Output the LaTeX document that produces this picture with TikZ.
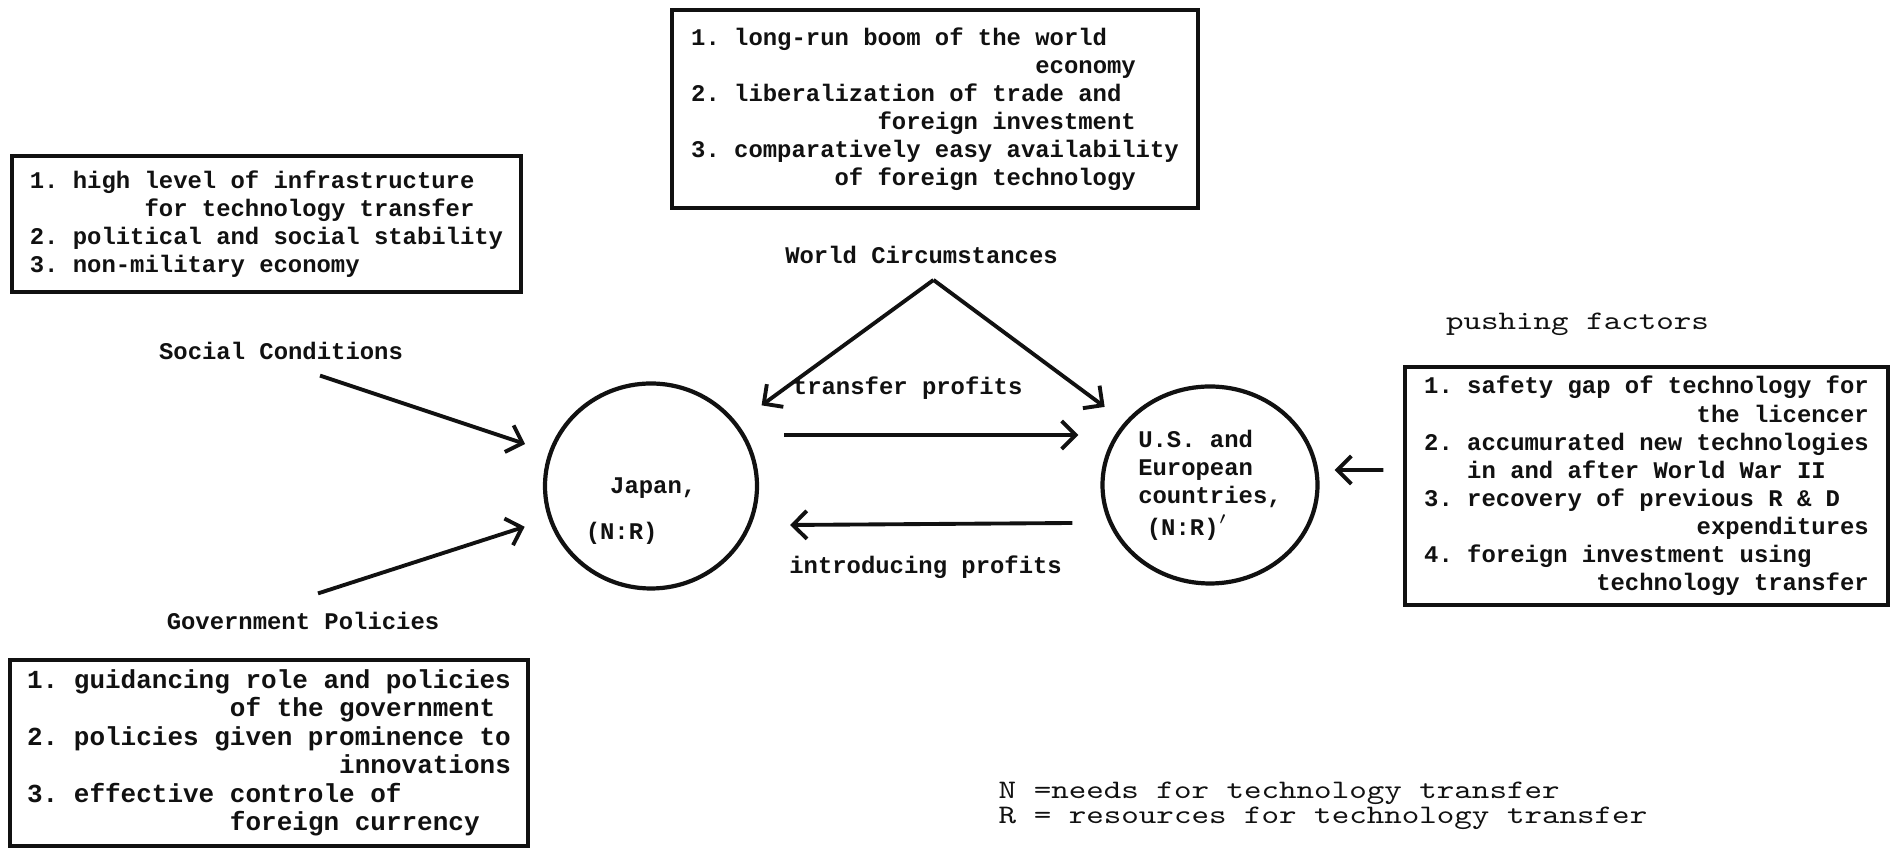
\documentclass[tikz,border=0pt]{standalone}
\usepackage{fontspec}
\newfontfamily\dotfont{Liberation Mono}
\usetikzlibrary{arrows.meta,positioning,shapes.geometric}
\definecolor{scanink}{HTML}{111111}
\newcommand{\skipch}[1]{\hspace*{#1\fontcharwd\font`x}}
\newcommand{\squat}[1]{\scalebox{1}[.8]{#1}}
\tikzset{
  factorbox/.style={draw=scanink,line width=.9pt,align=left,inner sep=0pt,text=scanink,
    font=\dotfont\bfseries\frenchspacing\fontsize{6.8pt}{8pt}\selectfont},
  country/.style={ellipse,draw=scanink,line width=1.2pt,inner sep=0pt,align=left,text=scanink,
    font=\dotfont\bfseries\frenchspacing\fontsize{6.8pt}{8pt}\selectfont},
  heading/.style={inner sep=1pt,text=scanink,
    font=\dotfont\bfseries\frenchspacing\fontsize{6.8pt}{8pt}\selectfont},
  typed/.style={inner sep=0pt,text=scanink,font=\ttfamily\fontsize{9.5pt}{10pt}\selectfont},
  edge/.style={-{Straight Barb[length=1.4mm,width=2.8mm]},line width=1.1pt,scanink}
}

\begin{document}
\begin{tikzpicture}
  \path[use as bounding box] (0,0) rectangle (18.96,8.49);
  % countries
  \node[country,minimum width=2.12cm,minimum height=2.05cm] (japan) at (6.51,3.63) {};
  \node[heading,align=left] (japantxt) at ([xshift=-1mm,yshift=-2.5mm]japan.center)
    {\skipch{1.7}Japan,\\[5pt](N:R)};
  \node[country,minimum width=2.15cm,minimum height=1.97cm] (west) at (12.10,3.64)
    {U.S. and\\European\\countries,\\[1pt]\skipch{.6}(N:R)$'$};
  \draw[edge] ([xshift=2.5mm,yshift=5.1mm]japan.east) --
    node[heading,above=3mm,pos=.42] (transfer) {transfer profits}
    ([xshift=-2.2mm,yshift=5mm]west.west);
  \draw[edge] ([xshift=-2.8mm,yshift=-3.8mm]west.west) --
    node[heading,below=2.6mm,pos=.52] (introducing) {introducing profits}
    ([xshift=3.1mm,yshift=-3.9mm]japan.east);
  % world circumstances
  \node[factorbox,minimum width=5.26cm,minimum height=1.98cm] (worldbox) at (9.35,7.40) {
    1. long-run boom of the world\\
    \skipch{24}economy\\
    2. liberalization of trade and\\
    \skipch{13}foreign investment\\
    3. comparatively easy availability\\
    \skipch{10}of foreign technology};
  \node[heading] (world) at (9.215,5.94) {World Circumstances};
  \coordinate (apex) at ([xshift=1.2mm,yshift=-1.2mm]world.south);
  \draw[edge,shorten >=3mm] (apex) -- (japan);
  \draw[edge,shorten >=2.5mm] (apex) -- (west);
  % social conditions
  \node[factorbox,minimum width=5.09cm,minimum height=1.36cm] (infra) at (2.665,6.25) {
    1. high level of infrastructure\\
    \skipch{8}for technology transfer\\
    2. political and social stability\\
    3. non-military economy};
  \node[heading,below=4.4mm of infra.south,xshift=1.45mm] (social) {Social Conditions};
  \draw[edge,shorten >=2.5mm] ([xshift=3.9mm,yshift=-1.2mm]social.south) -- (japan);
  % government policies
  \node[factorbox,minimum width=5.18cm,minimum height=1.86cm,
    font=\dotfont\bfseries\frenchspacing\fontsize{7.4pt}{8.1pt}\selectfont] (policy) at (2.69,0.96) {
    1. guidancing role and policies\\
    \skipch{13}of the government\\
    2. policies given prominence to\\
    \skipch{20}innovations\\
    3. effective controle of\\
    \skipch{13}foreign currency};
  \node[heading,above=2.4mm of policy.north,xshift=3.4mm] (gov) {Government Policies};
  \draw[edge,shorten >=2.5mm] ([xshift=1.5mm,yshift=1.5mm]gov.north) -- (japan);
  % pushing factors
  \node[factorbox,minimum width=4.83cm,minimum height=2.38cm] (push) at (16.465,3.63) {
    1. safety gap of technology for\\
    \skipch{19}the licencer\\
    2. accumurated new technologies\\
    \skipch{3}in and after World War II\\
    3. recovery of previous R \& D\\
    \skipch{19}expenditures\\
    4. foreign investment using\\
    \skipch{12}technology transfer};
  \node[typed,above=2.9mm of push.north,xshift=-6.9mm] (pushing) {\squat{pushing factors}};
  \draw[edge] ([xshift=-2mm,yshift=1.6mm]push.west) -- ([xshift=1.5mm,yshift=1.5mm]west.east);
  % legend
  \node[typed,anchor=west] (legN) at (9.98,0.56) {\squat{N =needs for technology transfer}};
  \node[typed,anchor=west] (legR) at ([yshift=-2.5mm]legN.west)
    {\squat{R = resources for technology transfer}};
\end{tikzpicture}
\end{document}
